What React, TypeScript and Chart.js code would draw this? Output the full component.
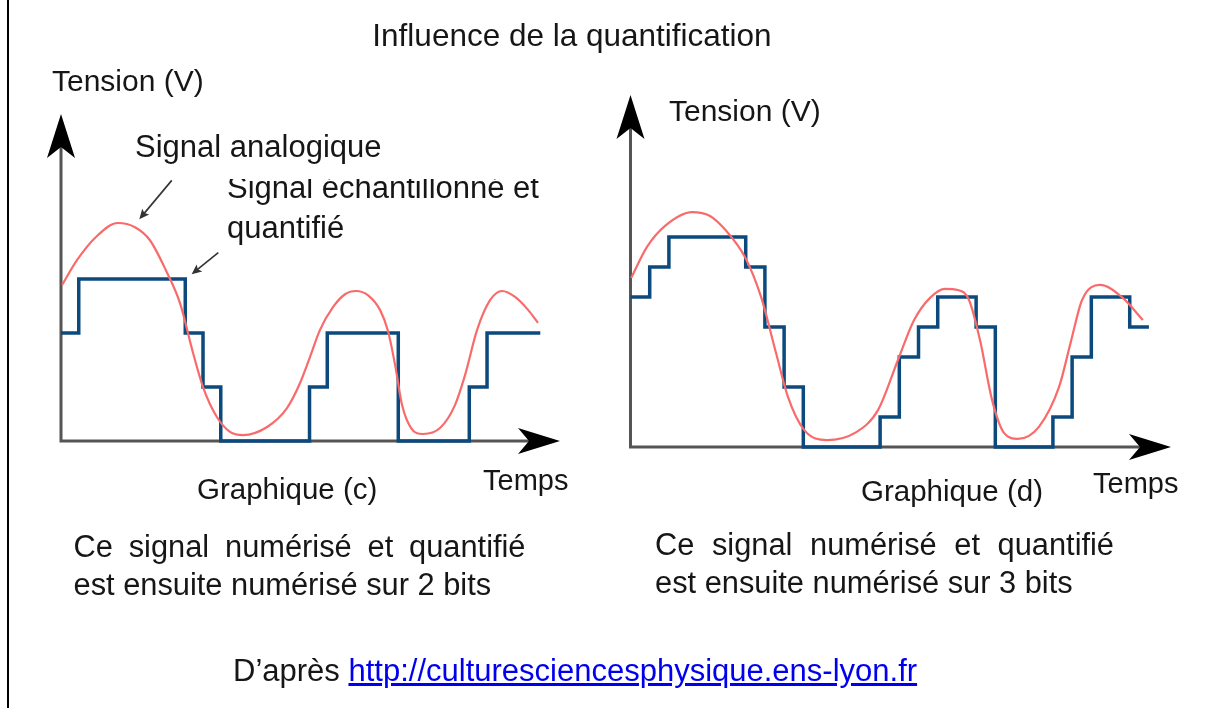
import React, { useEffect, useRef } from "react";
import { Chart, registerables } from "chart.js";

Chart.register(...registerables);

const PAGE_W = 1213;
const PAGE_H = 711;

// ---------- Graphique (c) : 2 bits ----------
const quantC = [2, 3, 3, 3, 3, 3, 3, 2, 1, 0, 0, 0, 0, 0, 1, 2, 2, 2, 2, 0, 0, 0, 0, 1, 2, 2, 2];
const analogTimeC = [
  0.06, 0.9, 1.97, 3.2, 4.17, 5.01, 5.9, 6.7, 7.44, 8.0, 8.79, 9.52, 10.25, 11.61, 12.73, 13.46,
  14.03, 14.59, 15.32, 16.0, 16.62, 17.3, 17.97, 18.42, 18.82, 19.21, 19.72, 20.39, 21.35, 22.2,
  22.76, 23.44, 24.17, 24.85, 25.58, 26.31, 26.87,
];
const analogValC = [
  2.89, 3.35, 3.78, 4.04, 3.96, 3.72, 3.17, 2.56, 1.63, 1.0, 0.44, 0.17, 0.11, 0.26, 0.61, 1.07,
  1.56, 2.06, 2.48, 2.72, 2.78, 2.7, 2.43, 2.04, 1.41, 0.67, 0.24, 0.13, 0.24, 0.67,
  1.22, 2.06, 2.61, 2.78, 2.67, 2.43, 2.19,
];

// ---------- Graphique (d) : 3 bits ----------
const quantD = [5, 6, 7, 7, 7, 7, 6, 4, 2, 0, 0, 0, 0, 1, 3, 4, 5, 5, 4, 0, 0, 0, 1, 3, 5, 5, 4];
const analogTimeD = [
  0.03, 0.86, 1.8, 3.2, 4.14, 4.95, 5.96, 6.8, 7.58, 8.2, 9.04, 10.23, 11.69, 12.89, 13.93, 14.77,
  15.6, 16.38, 17.06, 17.63, 18.2, 18.83, 19.45, 20.18, 21.27, 22.32, 22.92, 23.52, 24.45, 25.58, 26.69,
];
const analogValD = [
  5.63, 6.67, 7.37, 7.83, 7.7, 7.23, 6.33, 5.0, 3.13, 1.67, 0.57, 0.23, 0.47, 1.23, 2.9, 4.23,
  4.97, 5.27, 5.23, 4.9, 3.57, 1.57, 0.47, 0.27, 0.67, 2.0, 3.47, 4.9, 5.4, 5.0, 4.23,
];

// layout (pixels on the page) of each plot area
const LAYOUT_C = { left: 61, right: 560, top: 114, bottom: 441, xMax: 28.11, yMax: 6.06 };
const LAYOUT_D = { left: 630.5, right: 1171, top: 95, bottom: 447, xMax: 28.15, yMax: 11.73 };

// annotation arrows of graph (c): [tailT, tailV, headT, headV] in axis units
const NOTE_ARROWS_C = [
  [6.24, 4.83, 4.41, 4.11],
  [8.86, 3.49, 7.36, 3.09],
];

const RED = "#f96b6b";
const BLUE = "#0c4a7d";
const FONT = '"Liberation Sans", Arial, Helvetica, sans-serif';

function stealth(ctx: CanvasRenderingContext2D, tx: number, ty: number, dx: number, dy: number, len: number, half: number, notch: number) {
  const bx = tx - dx * len;
  const by = ty - dy * len;
  const nx = -dy;
  const ny = dx;
  ctx.beginPath();
  ctx.moveTo(tx, ty);
  ctx.lineTo(bx + nx * half, by + ny * half);
  ctx.lineTo(tx - dx * (len - notch), ty - dy * (len - notch));
  ctx.lineTo(bx - nx * half, by - ny * half);
  ctx.closePath();
  ctx.fill();
}

function makeAxesPlugin(notes: number[][]) {
  return {
    id: "arrowAxes",
    beforeDatasetsDraw(chart: any) {
      const { ctx, chartArea: a } = chart;
      const sx = chart.scales.x;
      const sy = chart.scales.y;
      const x0 = sx.getPixelForValue(0);
      const y0 = sy.getPixelForValue(0);
      ctx.save();
      ctx.strokeStyle = "#555";
      ctx.lineWidth = 3;
      ctx.beginPath();
      ctx.moveTo(x0, y0 + 1.5);
      ctx.lineTo(x0, a.top + 30);
      ctx.moveTo(x0 - 1.5, y0);
      ctx.lineTo(a.right - 30, y0);
      ctx.stroke();
      ctx.fillStyle = "#000";
      stealth(ctx, x0, a.top, 0, -1, 44, 14, 11);
      stealth(ctx, a.right, y0, 1, 0, 42, 13, 11);
      ctx.restore();
    },
    afterDatasetsDraw(chart: any) {
      if (!notes.length) return;
      const { ctx } = chart;
      const sx = chart.scales.x;
      const sy = chart.scales.y;
      ctx.save();
      ctx.strokeStyle = "#333";
      ctx.fillStyle = "#333";
      ctx.lineWidth = 1.6;
      for (const n of notes) {
        const x1 = sx.getPixelForValue(n[0]);
        const y1 = sy.getPixelForValue(n[1]);
        const x2 = sx.getPixelForValue(n[2]);
        const y2 = sy.getPixelForValue(n[3]);
        const L = Math.hypot(x2 - x1, y2 - y1);
        const dx = (x2 - x1) / L;
        const dy = (y2 - y1) / L;
        ctx.beginPath();
        ctx.moveTo(x1, y1);
        ctx.lineTo(x2 - dx * 6, y2 - dy * 6);
        ctx.stroke();
        stealth(ctx, x2, y2, dx, dy, 10, 4.5, 2);
      }
      ctx.restore();
    },
  };
}

function buildConfig(quant: number[], tArr: number[], vArr: number[], lay: any, notes: number[][]) {
  const stepPts = quant.map((v, i) => ({ x: i, y: v }));
  stepPts.push({ x: quant.length, y: quant[quant.length - 1] });
  const analogPts = tArr.map((t, i) => ({ x: t, y: vArr[i] }));
  return {
    type: "line" as const,
    data: {
      datasets: [
        {
          label: "Signal analogique",
          data: analogPts,
          borderColor: RED,
          borderWidth: 2.2,
          cubicInterpolationMode: "monotone" as const,
          pointRadius: 0,
          fill: false,
          clip: false as any,
        },
        {
          label: "Signal échantillonné et quantifié",
          data: stepPts,
          borderColor: BLUE,
          borderWidth: 3.5,
          stepped: "before" as const,
          pointRadius: 0,
          fill: false,
          clip: false as any,
        },
      ],
    },
    options: {
      responsive: false,
      animation: false as const,
      events: [],
      layout: {
        padding: {
          left: lay.left,
          right: PAGE_W - lay.right,
          top: lay.top,
          bottom: PAGE_H - lay.bottom,
        },
      },
      plugins: { legend: { display: false }, tooltip: { enabled: false }, title: { display: false } },
      scales: {
        x: { type: "linear" as const, min: 0, max: lay.xMax, display: false },
        y: { type: "linear" as const, min: 0, max: lay.yMax, display: false },
      },
    },
    plugins: [makeAxesPlugin(notes)],
  };
}

function Txt(props: { left: number; top: number; size: number; children: any; style?: any }) {
  return (
    <div
      style={{
        position: "absolute",
        left: props.left,
        top: props.top,
        fontSize: props.size,
        lineHeight: 1,
        fontFamily: FONT,
        color: "#161616",
        whiteSpace: "nowrap",
        ...(props.style || {}),
      }}
    >
      {props.children}
    </div>
  );
}

export default function App() {
  const refC = useRef<HTMLCanvasElement>(null);
  const refD = useRef<HTMLCanvasElement>(null);

  useEffect(() => {
    const cC = new Chart(refC.current as HTMLCanvasElement, buildConfig(quantC, analogTimeC, analogValC, LAYOUT_C, NOTE_ARROWS_C) as any);
    const cD = new Chart(refD.current as HTMLCanvasElement, buildConfig(quantD, analogTimeD, analogValD, LAYOUT_D, []) as any);
    return () => {
      cC.destroy();
      cD.destroy();
    };
  }, []);

  const canvasStyle: any = { position: "absolute", left: 0, top: 0, width: PAGE_W, height: PAGE_H };

  return (
    <div style={{ position: "absolute", left: 0, top: 0, width: PAGE_W, height: PAGE_H, background: "#fff", overflow: "hidden" }}>
      <div style={{ position: "absolute", left: 7, top: 0, width: 2, height: 708, background: "#000" }} />
      <canvas ref={refC} width={PAGE_W} height={PAGE_H} style={canvasStyle} />
      <canvas ref={refD} width={PAGE_W} height={PAGE_H} style={canvasStyle} />

      <Txt left={322} top={20} size={31.5} style={{ width: 500, textAlign: "center" }}>
        Influence de la quantification
      </Txt>

      {/* graph (c) labels */}
      <Txt left={52} top={65.5} size={30}>Tension (V)</Txt>
      <Txt left={135} top={130.5} size={31}>Signal analogique</Txt>
      <Txt left={227} top={172} size={31}>Signal échantillonné et</Txt>
      <div style={{ position: "absolute", left: 224, top: 168, width: 320, height: 11, background: "#fff" }} />
      <Txt left={227} top={212} size={31}>quantifié</Txt>
      <Txt left={483} top={466} size={29}>Temps</Txt>
      <Txt left={197} top={474} size={29.5}>Graphique (c)</Txt>
      <Txt left={73.5} top={532} size={30.8} style={{ width: 452, textAlign: "justify", textAlignLast: "justify" }}>
        Ce signal numérisé et quantifié
      </Txt>
      <Txt left={73.5} top={570} size={30.8}>est ensuite numérisé sur 2 bits</Txt>

      {/* graph (d) labels */}
      <Txt left={669} top={95.5} size={30}>Tension (V)</Txt>
      <Txt left={1093} top={469} size={29}>Temps</Txt>
      <Txt left={861} top={476} size={29.5}>Graphique (d)</Txt>
      <Txt left={655} top={529.5} size={30.8} style={{ width: 459, textAlign: "justify", textAlignLast: "justify" }}>
        Ce signal numérisé et quantifié
      </Txt>
      <Txt left={655} top={567.5} size={30.8}>est ensuite numérisé sur 3 bits</Txt>

      {/* source */}
      <Txt left={233} top={655} size={31}>
        D’après{" "}
        <a href="http://culturesciencesphysique.ens-lyon.fr" style={{ color: "#0000ee", textDecoration: "underline" }}>
          http://culturesciencesphysique.ens-lyon.fr
        </a>
      </Txt>
    </div>
  );
}
